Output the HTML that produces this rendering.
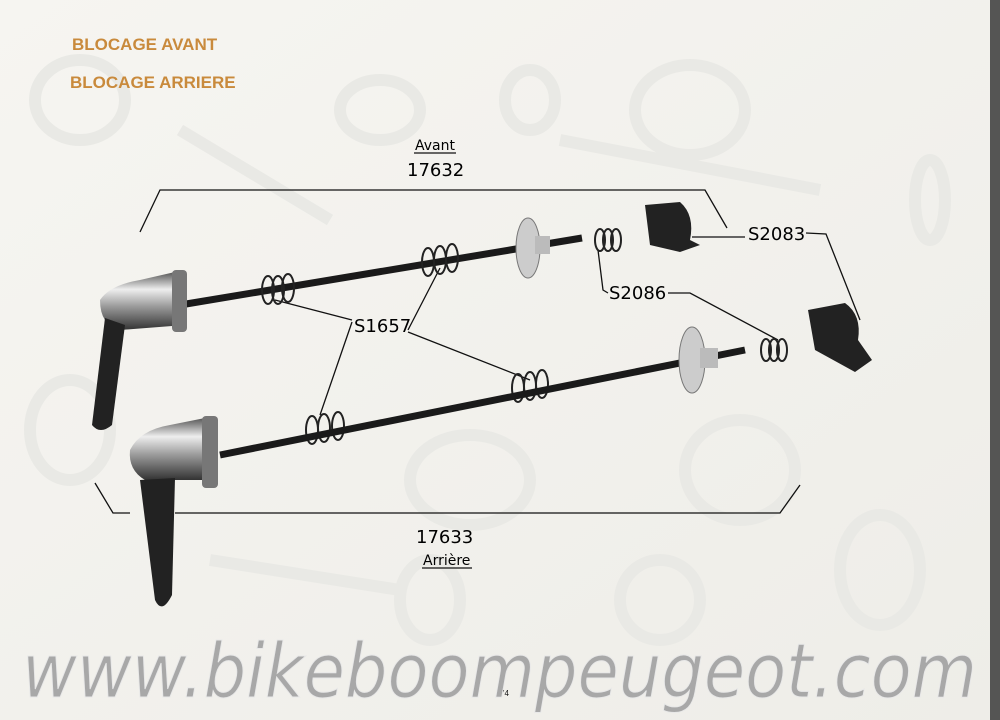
<!DOCTYPE html>
<html><head><meta charset="utf-8"><style>
html,body{margin:0;padding:0;background:#f4f3ef;}
svg{display:block}
</style></head><body>
<svg width="1000" height="720" viewBox="0 0 1000 720" xmlns="http://www.w3.org/2000/svg">
<defs>
<linearGradient id="chr" x1="0" y1="0" x2="0" y2="1">
<stop offset="0" stop-color="#555"/><stop offset="0.3" stop-color="#eee"/><stop offset="0.6" stop-color="#999"/><stop offset="1" stop-color="#333"/>
</linearGradient>
<linearGradient id="bg" x1="0" y1="0" x2="1" y2="1">
<stop offset="0" stop-color="#f6f5f1"/><stop offset="1" stop-color="#eeede8"/>
</linearGradient>
</defs>
<rect width="1000" height="720" fill="url(#bg)"/>
<g fill="none" stroke="#e9e9e5" stroke-width="12">
<ellipse cx="80" cy="100" rx="45" ry="40"/>
<ellipse cx="380" cy="110" rx="40" ry="30"/>
<ellipse cx="690" cy="110" rx="55" ry="45"/>
<ellipse cx="530" cy="100" rx="25" ry="30"/>
<ellipse cx="470" cy="480" rx="60" ry="45"/>
<ellipse cx="740" cy="470" rx="55" ry="50"/>
<ellipse cx="880" cy="570" rx="40" ry="55"/>
<ellipse cx="70" cy="430" rx="40" ry="50"/>
<ellipse cx="430" cy="600" rx="30" ry="40"/>
<ellipse cx="660" cy="600" rx="40" ry="40"/>
<ellipse cx="930" cy="200" rx="15" ry="40"/>
<line x1="180" y1="130" x2="330" y2="220"/>
<line x1="560" y1="140" x2="820" y2="190"/>
<line x1="210" y1="560" x2="400" y2="590"/>
</g>
<rect x="990" y="0" width="10" height="720" fill="#3a3a3a" opacity="0.85"/>

<text x="72" y="50" font-family="Liberation Sans, sans-serif" font-size="17" font-weight="600" fill="#c98a3c">BLOCAGE AVANT</text>
<text x="70" y="88" font-family="Liberation Sans, sans-serif" font-size="17" font-weight="600" fill="#c98a3c">BLOCAGE ARRIERE</text>

<g font-family="DejaVu Sans, sans-serif" font-size="18" fill="#000">
<text x="415" y="150" font-size="14">Avant</text>
<line x1="414" y1="153" x2="456" y2="153" stroke="#111" stroke-width="1.2"/>
<text x="407" y="176">17632</text>
<text x="416" y="543">17633</text>
<text x="423" y="565" font-size="14">Arrière</text>
<line x1="422" y1="568" x2="472" y2="568" stroke="#111" stroke-width="1.2"/>
<text x="748" y="240">S2083</text>
<text x="609" y="299">S2086</text>
<text x="354" y="332">S1657</text>
</g>

<g fill="none" stroke="#111" stroke-width="1.3">
<polyline points="140,232 160,190 705,190 727,228"/>
<polyline points="95,483 113,513 130,513"/>
<polyline points="175,513 780,513 800,485"/>
<line x1="692" y1="237" x2="745" y2="237"/>
<polyline points="806,233 826,234 860,320"/>
<polyline points="598,250 603,290 608,293"/>
<polyline points="668,293 690,293 778,340"/>
<polyline points="352,320 275,300"/>
<polyline points="352,322 320,415"/>
<polyline points="408,330 440,268"/>
<polyline points="408,332 530,380"/>
</g>

<line x1="180" y1="305" x2="582" y2="238" stroke="#1a1a1a" stroke-width="7"/>
<path d="M100,300 Q110,285 140,280 L175,272 L185,325 L120,330 Q100,325 100,300Z" fill="url(#chr)"/>
<rect x="172" y="270" width="15" height="62" rx="4" fill="#777"/>
<path d="M105,318 L125,325 L112,425 Q100,435 92,425 Z" fill="#222"/>
<ellipse cx="528" cy="248" rx="12" ry="30" fill="#ccc" stroke="#777"/>
<rect x="535" y="236" width="15" height="18" fill="#bbb"/>
<g fill="none" stroke="#222" stroke-width="2">
<ellipse cx="268" cy="290" rx="6" ry="14"/><ellipse cx="278" cy="290" rx="6" ry="14"/><ellipse cx="288" cy="288" rx="6" ry="14"/>
<ellipse cx="428" cy="262" rx="6" ry="14"/><ellipse cx="440" cy="260" rx="6" ry="14"/><ellipse cx="452" cy="258" rx="6" ry="14"/>
<ellipse cx="600" cy="240" rx="5" ry="11"/><ellipse cx="608" cy="240" rx="5" ry="11"/><ellipse cx="616" cy="240" rx="5" ry="11"/>
<ellipse cx="312" cy="430" rx="6" ry="14"/><ellipse cx="324" cy="428" rx="6" ry="14"/><ellipse cx="338" cy="426" rx="6" ry="14"/>
<ellipse cx="518" cy="388" rx="6" ry="14"/><ellipse cx="530" cy="386" rx="6" ry="14"/><ellipse cx="542" cy="384" rx="6" ry="14"/>
<ellipse cx="766" cy="350" rx="5" ry="11"/><ellipse cx="774" cy="350" rx="5" ry="11"/><ellipse cx="782" cy="350" rx="5" ry="11"/>
</g>
<path d="M645,205 L680,202 Q695,215 690,240 L700,245 L680,252 L650,245 Z" fill="#222"/>
<path d="M808,310 L845,303 Q862,315 858,340 L872,360 L855,372 L815,350 Z" fill="#222"/>

<line x1="220" y1="455" x2="745" y2="350" stroke="#1a1a1a" stroke-width="7"/>
<path d="M130,450 Q140,430 170,425 L205,418 L215,480 L145,480 Q128,470 130,450Z" fill="url(#chr)"/>
<rect x="202" y="416" width="16" height="72" rx="4" fill="#777"/>
<path d="M140,480 L175,478 L172,595 Q162,615 155,600 Z" fill="#222"/>
<ellipse cx="692" cy="360" rx="13" ry="33" fill="#ccc" stroke="#777"/>
<rect x="700" y="348" width="18" height="20" fill="#bbb"/>

<text x="500" y="696" font-family="Liberation Sans, sans-serif" font-size="8" fill="#111">74</text>
<text x="22" y="697" font-family="DejaVu Sans, sans-serif" font-style="italic" font-size="75" fill="#a8a8a8" stroke="#e8e8e8" stroke-width="1" textLength="955" lengthAdjust="spacingAndGlyphs">www.bikeboompeugeot.com</text>
</svg>
</body></html>
